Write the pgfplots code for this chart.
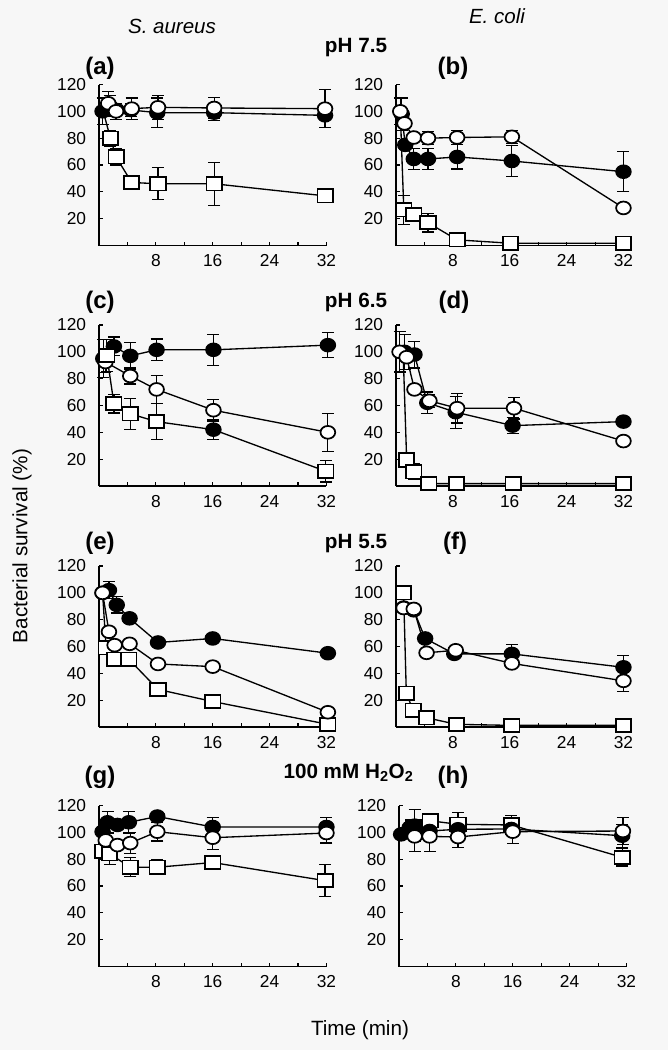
\documentclass[border=0pt]{standalone}
\usepackage{fontspec}
\setmainfont{Liberation Sans}
\usepackage{pgfplots}
\pgfplotsset{compat=1.18}
\definecolor{bg}{RGB}{247,247,247}
\pgfplotsset{
  panel/.style={scale only axis, width=170.6pt, height=120.75pt, anchor=south west,
    xmin=0, xmax=32, ymin=0, ymax=120,
    axis x line*=bottom, axis y line*=left, clip=false,
    xtick={8,16,24,32}, minor xtick={4,12,20,28}, ytick={20,40,60,80,100,120},
    tick align=inside, major tick length=3pt, minor tick length=3pt,
    tick style={black, line width=0.8pt},
    axis line style={black, line width=1pt},
    tick label style={font=\fontsize{13}{15}\selectfont, inner sep=0pt},
    yticklabel style={anchor=east, xshift=-9.5pt}, xticklabel style={anchor=north, yshift=-6.5pt},
    /pgf/number format/assume math mode=true},
  ser/.style={black, line width=1pt,
    error bars/y dir=both, error bars/y explicit,
    error bars/error mark options={rotate=90, black, mark size=4.5pt, line width=0.9pt},
    error bars/error bar style={black, line width=0.9pt}},
  fc/.style={ser, mark=*, mark size=4.8pt, mark options={xscale=1.15, fill=black, draw=black, line width=1.3pt}},
  oc/.style={ser, mark=*, mark size=4.8pt, mark options={xscale=1.15, fill=white, draw=black, line width=1.3pt}},
  sq/.style={ser, mark=square*, mark size=5pt, mark options={xscale=1.15, fill=white, draw=black, line width=1.3pt}},
}
\begin{document}
\begin{tikzpicture}
\fill[bg] (0,0) rectangle (501pt,-787.5pt);
\useasboundingbox (0,0) rectangle (501pt,-787.5pt);

% (a)
\begin{axis}[panel, at={(74.25pt,-184.125pt)}]
\addplot[sq, mark indices={2,3,4,5,6,7}] coordinates {(0.6,100) +- (0,0) (1.6,80) +- (0,6) (2.4,66) +- (0,6) (4.6,47) +- (0,0) (8.3,46) +- (0,12) (16.2,46) +- (0,16) (31.8,37) +- (0,0)};
\addplot[fc] coordinates {(0.5,100) +- (0,10) (1.5,104) +- (0,8) (2.5,101) +- (0,0) (4.5,101) +- (0,5) (8.2,99) +- (0,11) (16.2,99) +- (0,6) (31.8,97) +- (0,0)};
\addplot[oc] coordinates {(1.3,106) +- (0,9) (2.4,100) +- (0,6) (4.6,102) +- (0,8) (8.3,103) +- (0,9) (16.2,102.5) +- (0,8) (31.8,102) +- (0,14)};
\end{axis}

% (b)
\begin{axis}[panel, at={(297pt,-184.125pt)}]
\addplot[sq, mark indices={2,3,4,5,6,7}] coordinates {(0.6,100) +- (0,0) (1.1,26.5) +- (0,11) (2.5,23) +- (0,0) (4.5,17) +- (0,7) (8.6,4.2) +- (0,0) (16.1,1.7) +- (0,0) (32,1.7) +- (0,0)};
\addplot[fc] coordinates {(0.8,98) +- (0,12) (1.3,75) +- (0,0) (2.5,64.5) +- (0,8) (4.5,64.5) +- (0,8) (8.6,66) +- (0,9) (16.3,63) +- (0,11.5) (32,55) +- (0,15)};
\addplot[oc] coordinates {(0.6,100) +- (0,10) (1.2,91) +- (0,0) (2.5,80.5) +- (0,0) (4.5,80) +- (0,5) (8.6,80.5) +- (0,5) (16.3,81) +- (0,5) (32,28) +- (0,0)};
\end{axis}

% (c)
\begin{axis}[panel, at={(74.25pt,-364.5pt)}]
\addplot[fc] coordinates {(0.6,95) +- (0,14) (2.1,104) +- (0,7) (4.4,97) +- (0,10) (8.1,101.5) +- (0,8) (16.1,101.5) +- (0,11.5) (32.2,105) +- (0,9.5)};
\addplot[oc] coordinates {(0.9,92.4) +- (0,8) (4.4,82) +- (0,6) (8.1,72) +- (0,10.5) (16.1,56.5) +- (0,8) (32.2,40) +- (0,14)};
\addplot[sq, mark indices={1,2,3,4,6}] coordinates {(1.1,97.3) +- (0,12) (2.1,61.4) +- (0,7) (4.4,53.8) +- (0,11.5) (8.1,48) +- (0,13.5) (16.1,42) +- (0,7.5) (31.9,11) +- (0,8)};
\addplot[fc, only marks] coordinates {(16.1,42) +- (0,0)};
\end{axis}

% (d)
\begin{axis}[panel, at={(297pt,-364.5pt)}]
\addplot[sq, mark indices={2,3,4,5,6,7}] coordinates {(1.0,100) +- (0,0) (1.5,19.4) +- (0,0) (2.5,10.6) +- (0,6) (4.6,1.8) +- (0,0) (8.5,1.8) +- (0,0) (16.5,1.8) +- (0,0) (32,1.8) +- (0,0)};
\addplot[fc] coordinates {(1.2,100) +- (0,13) (2.6,98) +- (0,10) (4.4,62) +- (0,8) (8.4,55) +- (0,12) (16.4,45) +- (0,6) (32,48) +- (0,0)};
\addplot[oc] coordinates {(0.5,100) +- (0,15) (1.5,96) +- (0,0) (2.6,72) +- (0,0) (4.7,63.5) +- (0,5) (8.6,58) +- (0,11) (16.6,58) +- (0,8) (32,33.5) +- (0,0)};
\end{axis}

% (e)
\begin{axis}[panel, at={(74.25pt,-545.25pt)}]
\addplot[sq, mark indices={2,3,4,5,6,7}] coordinates {(0.5,100) +- (0,0) (1.0,59) +- (0,0) (2.2,50.5) +- (0,0) (4.2,50.5) +- (0,0) (8.3,28) +- (0,0) (16,19) +- (0,0) (32.2,2) +- (0,0)};
\addplot[fc] coordinates {(0.5,100) +- (0,0) (1.4,102) +- (0,6.5) (2.5,91) +- (0,6) (4.3,81) +- (0,0) (8.3,63) +- (0,0) (16,66) +- (0,0) (32.2,55) +- (0,0)};
\addplot[oc] coordinates {(0.5,100) +- (0,0) (1.4,71) +- (0,0) (2.2,61) +- (0,0) (4.3,62) +- (0,0) (8.3,47) +- (0,0) (16,45) +- (0,0) (32.2,11) +- (0,0)};
\end{axis}

% (f)
\begin{axis}[panel, at={(297pt,-545.25pt)}]
\addplot[fc] coordinates {(1.07,89) +- (0,0) (2.5,87) +- (0,0) (4.1,66) +- (0,0) (8.2,54.5) +- (0,0) (16.3,54.5) +- (0,7) (32,44.5) +- (0,9)};
\addplot[oc] coordinates {(1.07,88.7) +- (0,0) (2.5,88) +- (0,0) (4.3,55.3) +- (0,0) (8.4,57.2) +- (0,0) (16.3,47.4) +- (0,0) (32,34.4) +- (0,8)};
\addplot[sq] coordinates {(1.07,100) +- (0,0) (1.45,25.3) +- (0,0) (2.4,12.5) +- (0,0) (4.3,6.9) +- (0,0) (8.5,2) +- (0,0) (16.3,1.2) +- (0,0) (32,1.2) +- (0,0)};
\end{axis}

% (g)
\begin{axis}[panel, at={(74.25pt,-724.875pt)}]
\addplot[sq] coordinates {(0.5,86) +- (0,0) (1.5,84) +- (0,8) (4.4,74) +- (0,7) (8.2,74) +- (0,5.5) (16,77.5) +- (0,0) (31.8,64) +- (0,12)};
\addplot[fc] coordinates {(0.5,100.5) +- (0,0) (1.2,107.5) +- (0,8) (2.6,105.5) +- (0,0) (4.2,107.5) +- (0,8) (8.2,111.8) +- (0,0) (16,104) +- (0,7) (32,104) +- (0,7)};
\addplot[oc] coordinates {(0.95,94) +- (0,0) (2.6,90.5) +- (0,0) (4.4,92) +- (0,8) (8.2,100.5) +- (0,7) (16,96) +- (0,9) (32,99.5) +- (0,7.5)};
\end{axis}

% (h)
\begin{axis}[panel, at={(299.25pt,-724.875pt)}]
\addplot[sq, mark indices={2,3,4,5,6}] coordinates {(0.5,98) +- (0,0) (2.0,104) +- (0,0) (4.4,108.6) +- (0,0) (8.3,106) +- (0,9) (15.8,105.5) +- (0,7) (31.4,81.4) +- (0,6.5)};
\addplot[fc] coordinates {(0.3,98.5) +- (0,0) (1.5,103.5) +- (0,0) (2.2,105) +- (0,12) (4.3,101) +- (0,0) (8.3,102.3) +- (0,0) (15.8,102.5) +- (0,0) (31.4,97.5) +- (0,8.5)};
\addplot[oc] coordinates {(2.2,97) +- (0,11) (4.3,97) +- (0,11) (8.3,96.5) +- (0,8) (16,100.5) +- (0,9) (31.5,101) +- (0,10)};
\end{axis}

% titles and labels
\node[font=\fontsize{15.4}{18}\selectfont\itshape] at (129pt,-19.5pt) {S. aureus};
\node[font=\fontsize{15.4}{18}\selectfont\itshape] at (372.75pt,-12pt) {E. coli};
\begin{scope}[every node/.style={font=\fontsize{15.5}{18}\selectfont\bfseries}]
\node at (267pt,-36pt) {pH 7.5};
\node at (267pt,-226.5pt) {pH 6.5};
\node at (267pt,-408pt) {pH 5.5};
\node at (261.4pt,-579.75pt) {100 mM H\textsubscript{2}O\textsubscript{2}};
\end{scope}
\begin{scope}[every node/.style={font=\fontsize{18}{21}\selectfont\bfseries}]
\node at (75pt,-51pt) {(a)};
\node at (339.75pt,-51pt) {(b)};
\node at (75pt,-226.5pt) {(c)};
\node at (340.5pt,-226.5pt) {(d)};
\node at (75pt,-407.25pt) {(e)};
\node at (341.25pt,-407.25pt) {(f)};
\node at (75pt,-582.75pt) {(g)};
\node at (339.75pt,-582.75pt) {(h)};
\end{scope}
\node[rotate=90, font=\fontsize{15.5}{18}\selectfont] at (16.5pt,-409.5pt) {Bacterial survival (\%)};
\node[font=\fontsize{15.5}{18}\selectfont] at (270pt,-772.5pt) {Time (min)};
\end{tikzpicture}
\end{document}
